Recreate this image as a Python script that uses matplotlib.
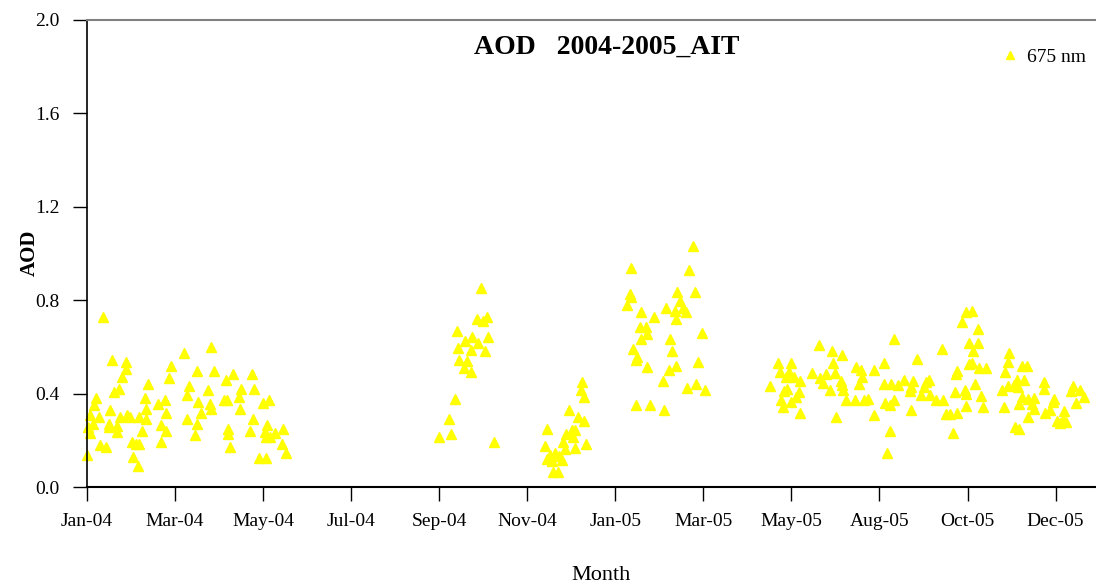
import numpy as np
import matplotlib
matplotlib.use("Agg")
import matplotlib.pyplot as plt

plt.rcParams['font.family'] = ['Liberation Serif', 'DejaVu Serif']

# days since 1 Jan 2004, AOD at 675 nm
day_jan_may04 = [11, 17, 27, 27, 24, 22, 19, 6, 5, 2, 8, 4, 1, 2, 16, 15, 15, 21, 21, 23, 28, 30,
                 9, 13, 0, 31, 34, 36, 32, 35, 38, 36, 41, 41, 40, 42, 49, 51, 51, 54, 55, 55,
                 57, 58, 67, 71, 69, 69, 76, 77, 75, 76,
                 86, 88, 101, 114, 96, 84, 107, 116, 105, 95, 97, 85, 122, 126, 86, 106, 79, 115,
                 98, 98, 113, 125, 123, 130, 136, 124, 127, 135, 99, 119, 124, 138]
aod_jan_may04 = [0.73, 0.545, 0.537, 0.507, 0.473, 0.42, 0.405, 0.38, 0.35, 0.307, 0.30, 0.27, 0.257,
                 0.232, 0.328, 0.27, 0.255, 0.26, 0.236, 0.30, 0.307, 0.30,
                 0.179, 0.172, 0.136, 0.193, 0.183, 0.186, 0.127, 0.091, 0.24, 0.30, 0.293, 0.336,
                 0.381, 0.442, 0.354, 0.264, 0.193, 0.371, 0.318, 0.239,
                 0.468, 0.52, 0.573, 0.431, 0.392, 0.293, 0.495, 0.364, 0.222, 0.27,
                 0.598, 0.495, 0.485, 0.485, 0.459, 0.414, 0.421, 0.421, 0.385, 0.371, 0.371, 0.354,
                 0.361, 0.371, 0.333, 0.336, 0.318, 0.293,
                 0.25, 0.229, 0.239, 0.264, 0.236, 0.232, 0.25, 0.215, 0.215, 0.186, 0.172, 0.125,
                 0.125, 0.144]

day_sep_oct04 = [273, 270, 277, 274, 256, 278, 267, 262, 271, 257, 266, 276, 258, 263, 261, 266,
                 255, 251, 244, 252, 282]
aod_sep_oct04 = [0.852, 0.719, 0.729, 0.709, 0.667, 0.641, 0.641, 0.624, 0.615, 0.596, 0.588, 0.581,
                 0.546, 0.539, 0.509, 0.492, 0.378, 0.293, 0.215, 0.229, 0.193]

day_nov_dec04 = [343, 342, 344, 334, 340, 344, 319, 336, 332, 338, 337, 330, 317, 346, 338, 331,
                 324, 321, 327, 329, 319, 322, 323, 326]
aod_nov_dec04 = [0.449, 0.417, 0.385, 0.331, 0.30, 0.283, 0.25, 0.246, 0.229, 0.243, 0.212, 0.193,
                 0.176, 0.186, 0.169, 0.161, 0.146, 0.136, 0.132, 0.115, 0.118, 0.111, 0.065, 0.065]

day_jan_mar05 = [420, 377, 417, 376, 377, 374, 409, 421, 411, 401, 407, 413, 415, 384, 393, 408,
                 383, 387, 388, 384, 426, 404, 405, 378, 381, 380, 388, 408, 403, 399, 423, 416,
                 422, 428, 380, 390, 400]
aod_jan_mar05 = [1.032, 0.94, 0.928, 0.826, 0.815, 0.78, 0.833, 0.833, 0.797, 0.765, 0.755, 0.765,
                 0.748, 0.748, 0.729, 0.719, 0.684, 0.684, 0.655, 0.634, 0.66, 0.634, 0.581, 0.591,
                 0.556, 0.545, 0.513, 0.52, 0.503, 0.456, 0.537, 0.423, 0.442, 0.414, 0.35, 0.35,
                 0.33]

day_may_dec05 = [507, 516, 523, 479, 488, 517, 480, 486, 533, 536, 484, 490, 502, 512, 518, 508,
                 537, 494, 510, 522, 523, 535, 473, 485, 524, 515, 483, 493, 491, 481, 488, 526,
                 532, 538, 541, 482, 494, 519,
                 609, 606, 559, 611, 592, 575, 552, 545, 603, 602, 611, 552, 557, 566, 562, 572,
                 571, 581, 583, 570, 580, 578, 584, 588, 593, 601, 608, 553, 556, 559, 609, 545,
                 571, 595, 598, 603, 556, 600, 554,
                 613, 617, 617, 614, 639, 638, 613, 618, 623, 648, 651, 636, 644, 649, 663, 615,
                 638, 642, 645, 663, 683, 682, 688, 634, 609, 691, 619, 648, 652, 656, 670, 646,
                 655, 669, 685, 621, 635, 656, 667, 664, 677, 652, 672, 676, 674, 678, 643, 646]
aod_may_dec05 = [0.61, 0.581, 0.566, 0.53, 0.53, 0.53, 0.492, 0.492, 0.513, 0.502, 0.473, 0.47,
                 0.487, 0.482, 0.487, 0.468, 0.473, 0.452, 0.446, 0.452, 0.435, 0.439, 0.432, 0.421,
                 0.414, 0.414, 0.409, 0.406, 0.385, 0.371, 0.364, 0.371, 0.371, 0.371, 0.378, 0.342,
                 0.318, 0.30,
                 0.748, 0.705, 0.634, 0.615, 0.591, 0.549, 0.532, 0.503, 0.495, 0.485, 0.525, 0.442,
                 0.442, 0.459, 0.435, 0.453, 0.428, 0.449, 0.459, 0.411, 0.428, 0.395, 0.395, 0.371,
                 0.371, 0.406, 0.414, 0.361, 0.353, 0.371, 0.345, 0.31, 0.328, 0.311, 0.311, 0.318,
                 0.24, 0.232, 0.144,
                 0.755, 0.677, 0.615, 0.584, 0.573, 0.534, 0.53, 0.51, 0.51, 0.52, 0.52, 0.492,
                 0.459, 0.459, 0.449, 0.439, 0.432, 0.435, 0.428, 0.418, 0.432, 0.409, 0.414, 0.414,
                 0.40, 0.385, 0.388, 0.385, 0.378, 0.381, 0.378, 0.357, 0.357, 0.364, 0.36, 0.342,
                 0.342, 0.333, 0.328, 0.317, 0.325, 0.30, 0.281, 0.289, 0.272, 0.279, 0.257, 0.25]

tick_days = np.arange(12) * 61
tick_labels = ['Jan-04', 'Mar-04', 'May-04', 'Jul-04', 'Sep-04', 'Nov-04',
               'Jan-05', 'Mar-05', 'May-05', 'Aug-05', 'Oct-05', 'Dec-05']

day = np.concatenate([day_jan_may04, day_sep_oct04, day_nov_dec04, day_jan_mar05, day_may_dec05])
aod = np.concatenate([aod_jan_may04, aod_sep_oct04, aod_nov_dec04, aod_jan_mar05, aod_may_dec05])

fig = plt.figure(figsize=(10.96, 5.87), dpi=100)
ax = fig.add_axes([87 / 1096, 1 - 487 / 587, 1 - 87 / 1096, 467 / 587])

ax.plot(day, aod, linestyle='none', marker='^', ms=7, color='#FFFF00', mec='#FFFF00',
        label='675 nm', clip_on=False)

ax.set_xlim(0, 699)
ax.set_ylim(0, 2.0)
ax.set_xticks(tick_days)
ax.set_xticklabels(tick_labels)
ax.set_yticks(np.arange(0, 2.01, 0.4))
ax.set_yticklabels(['%.1f' % v for v in np.arange(0, 2.01, 0.4)])

ax.tick_params(axis='x', direction='out', length=10, width=1, pad=9, labelsize=14)
ax.tick_params(axis='y', direction='out', length=10, width=1, pad=10, labelsize=14)
ax.yaxis.get_major_ticks()[-1].tick1line.set_color('gray')

ax.spines['right'].set_visible(False)
ax.spines['top'].set_color('gray')
ax.spines['top'].set_linewidth(1.5)
ax.spines['left'].set_linewidth(1.2)
ax.spines['bottom'].set_linewidth(1.5)

fig.text(607 / 1096, 1 - 47 / 587, 'AOD   2004-2005_AIT', ha='center', va='center',
         fontsize=20, fontweight='bold')
fig.text(30 / 1096, 1 - 253 / 587, 'AOD', rotation=90, ha='center', va='center',
         fontsize=15, fontweight='bold')
fig.text(601 / 1096, 1 - 576 / 587, 'Month', ha='center', va='center', fontsize=16)

ax.legend(loc='center left', bbox_to_anchor=(1002 / 1096, 1 - 57 / 587),
          bbox_transform=fig.transFigure, frameon=False, fontsize=14,
          handlelength=0.8, handletextpad=0.5, borderpad=0, borderaxespad=0, markerscale=0.9)

fig.savefig('out.png', dpi=100)
